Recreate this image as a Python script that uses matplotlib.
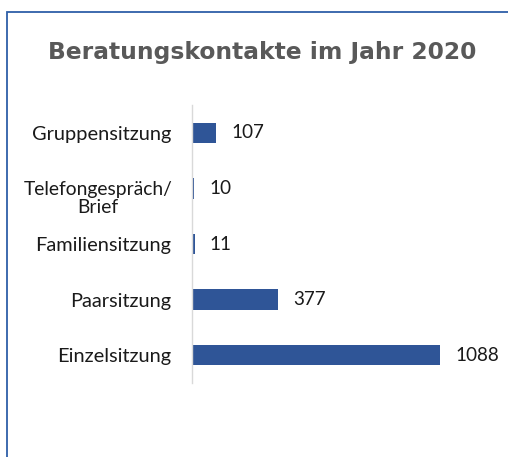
import matplotlib
matplotlib.use("Agg")
import matplotlib.pyplot as plt
from matplotlib.patches import Rectangle

categories = ["Einzelsitzung", "Paarsitzung", "Familiensitzung", "Telefongespräch/\nBrief", "Gruppensitzung"]
values = [1088, 377, 11, 10, 107]
title = "Beratungskontakte im Jahr 2020"

W, H = 508, 457
fig = plt.figure(figsize=(W / 100, H / 100), dpi=100)
fig.patch.set_facecolor("white")

# frame border (partially cut off at right/bottom)
fig.patches.append(Rectangle((6.5 / W, -0.1), 1.2, (H - 11.5) / H + 0.1,
                             transform=fig.transFigure, fill=False,
                             edgecolor="#2E5FA8", linewidth=1.3))

ax = fig.add_axes([192 / W, 1 - 383 / H, (441 - 192) / W, (383 - 105) / H])
y = list(range(len(categories)))
ax.barh(y, values, height=0.37, color="#2F5597")
ax.set_xlim(0, 1088 * (441 - 192) / (441 - 193))
ax.set_ylim(-0.5, len(categories) - 0.5)

for s in ["top", "right", "bottom"]:
    ax.spines[s].set_visible(False)
ax.spines["left"].set_color("#D9D9D9")
ax.spines["left"].set_linewidth(1)
ax.set_xticks([])
ax.set_yticks(y)
ax.set_yticklabels(["" if "Brief" in c else c for c in categories],
                   fontfamily="Lato", fontsize=14.4, color="#1a1a1a")
ax.tick_params(axis="y", length=0, pad=15)

for yi, c in zip(y, categories):
    if "Brief" in c:
        ax.annotate(c, (0, yi), xytext=(-14, 5), textcoords="offset points",
                    ha="right", va="top", multialignment="center", linespacing=1.02,
                    fontfamily="Lato", fontsize=13.9, color="#1a1a1a")

for yi, v in zip(y, values):
    ax.annotate(str(v), (v, yi), xytext=(11, 0), textcoords="offset points",
                va="center", ha="left", fontfamily="Lato", fontsize=13.6, color="#1a1a1a")

fig.text(262 / W, 1 - 53 / H, title, ha="center", va="center",
         fontfamily="DejaVu Sans", fontweight="bold", fontsize=16.8, color="#595959")

fig.savefig("out.png", dpi=100)
